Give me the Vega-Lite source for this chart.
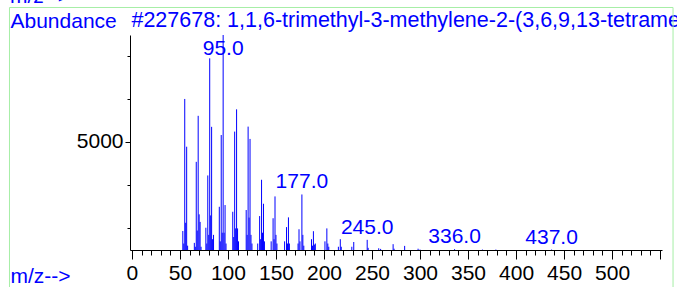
{
  "$schema": "https://vega.github.io/schema/vega-lite/v6.json",
  "width": 532,
  "height": 215,
  "autosize": {"type": "none"},
  "padding": {"left": 130, "top": 35, "right": 15, "bottom": 37},
  "background": "white",
  "config": {
    "view": {"stroke": null},
    "font": "Liberation Sans"
  },
  "resolve": {"axis": {"x": "independent"}},
  "datasets": {
    "peaks": [
      {"mz": 53, "abundance": 880},
      {"mz": 54, "abundance": 300},
      {"mz": 55, "abundance": 6990},
      {"mz": 56, "abundance": 1260},
      {"mz": 57, "abundance": 4780},
      {"mz": 58, "abundance": 200},
      {"mz": 65, "abundance": 330},
      {"mz": 66, "abundance": 150},
      {"mz": 67, "abundance": 4080},
      {"mz": 68, "abundance": 900},
      {"mz": 69, "abundance": 6210},
      {"mz": 70, "abundance": 1650},
      {"mz": 71, "abundance": 1300},
      {"mz": 72, "abundance": 150},
      {"mz": 77, "abundance": 1030},
      {"mz": 78, "abundance": 300},
      {"mz": 79, "abundance": 3450},
      {"mz": 80, "abundance": 700},
      {"mz": 81, "abundance": 8870},
      {"mz": 82, "abundance": 1600},
      {"mz": 83, "abundance": 5700},
      {"mz": 84, "abundance": 500},
      {"mz": 85, "abundance": 700},
      {"mz": 91, "abundance": 2000},
      {"mz": 92, "abundance": 400},
      {"mz": 93, "abundance": 5320},
      {"mz": 94, "abundance": 800},
      {"mz": 95, "abundance": 9950, "label": "95.0"},
      {"mz": 96, "abundance": 800},
      {"mz": 97, "abundance": 2080},
      {"mz": 98, "abundance": 300},
      {"mz": 105, "abundance": 1770},
      {"mz": 106, "abundance": 600},
      {"mz": 107, "abundance": 5480},
      {"mz": 108, "abundance": 1000},
      {"mz": 109, "abundance": 6510},
      {"mz": 110, "abundance": 1000},
      {"mz": 111, "abundance": 400},
      {"mz": 119, "abundance": 1850},
      {"mz": 120, "abundance": 700},
      {"mz": 121, "abundance": 5710},
      {"mz": 122, "abundance": 1500},
      {"mz": 123, "abundance": 5140},
      {"mz": 124, "abundance": 700},
      {"mz": 125, "abundance": 300},
      {"mz": 131, "abundance": 300},
      {"mz": 133, "abundance": 1570},
      {"mz": 134, "abundance": 500},
      {"mz": 135, "abundance": 3250},
      {"mz": 136, "abundance": 800},
      {"mz": 137, "abundance": 2140},
      {"mz": 138, "abundance": 400},
      {"mz": 145, "abundance": 400},
      {"mz": 147, "abundance": 1470},
      {"mz": 148, "abundance": 500},
      {"mz": 149, "abundance": 2480},
      {"mz": 150, "abundance": 700},
      {"mz": 151, "abundance": 300},
      {"mz": 159, "abundance": 400},
      {"mz": 161, "abundance": 1060},
      {"mz": 162, "abundance": 300},
      {"mz": 163, "abundance": 1510},
      {"mz": 164, "abundance": 300},
      {"mz": 173, "abundance": 300},
      {"mz": 174, "abundance": 960},
      {"mz": 175, "abundance": 400},
      {"mz": 177, "abundance": 2570, "label": "177.0"},
      {"mz": 178, "abundance": 700},
      {"mz": 179, "abundance": 200},
      {"mz": 187, "abundance": 500},
      {"mz": 188, "abundance": 200},
      {"mz": 189, "abundance": 870},
      {"mz": 190, "abundance": 250},
      {"mz": 191, "abundance": 300},
      {"mz": 201, "abundance": 400},
      {"mz": 203, "abundance": 1000},
      {"mz": 204, "abundance": 300},
      {"mz": 205, "abundance": 150},
      {"mz": 215, "abundance": 150},
      {"mz": 217, "abundance": 500},
      {"mz": 218, "abundance": 150},
      {"mz": 229, "abundance": 150},
      {"mz": 231, "abundance": 370},
      {"mz": 245, "abundance": 470, "label": "245.0"},
      {"mz": 246, "abundance": 100},
      {"mz": 257, "abundance": 80},
      {"mz": 259, "abundance": 50},
      {"mz": 272, "abundance": 270},
      {"mz": 273, "abundance": 60},
      {"mz": 284, "abundance": 190},
      {"mz": 298, "abundance": 60},
      {"mz": 300, "abundance": 20},
      {"mz": 336, "abundance": 40, "label": "336.0"},
      {"mz": 365, "abundance": 20},
      {"mz": 379, "abundance": 20},
      {"mz": 437, "abundance": 20, "label": "437.0"}
    ],
    "single": [{"name": "#227678: 1,1,6-trimethyl-3-methylene-2-(3,6,9,13-tetramethyl-6-ethenye-10,14-tetradecadienyl)cyclohexane"}]
  },
  "layer": [
    {
      "data": {"name": "peaks"},
      "mark": {"type": "rule", "color": "#0000ff", "strokeWidth": 1},
      "encoding": {
        "x": {
          "field": "mz",
          "type": "quantitative",
          "scale": {"domain": [-2, 552], "nice": false, "zero": false},
          "axis": {
            "orient": "bottom",
            "values": [0,50,100,150,200,250,300,350,400,450,500,550],
            "labelExpr": "datum.value > 500 ? '' : datum.label",
            "tickSize": 9,
            "labelFont": "Liberation Sans",
            "labelFontSize": 21,
            "labelColor": "black",
            "labelFlush": false,
            "labelOverlap": false,
            "labelPadding": 3,
            "domainColor": "black",
            "tickColor": "black",
            "grid": false,
            "title": "m/z-->",
            "titleColor": "#0000ff",
            "titleFont": "Liberation Sans",
            "titleFontSize": 21,
            "titleFontWeight": "normal",
            "titleAlign": "left",
            "titleBaseline": "alphabetic",
            "titleX": -120,
            "titleY": 32
          }
        },
        "y": {
          "field": "abundance",
          "type": "quantitative",
          "scale": {"domain": [0, 9950], "nice": false},
          "axis": {
            "values": [1000,2000,3000,4000,5000,6000,7000,8000,9000],
            "labelExpr": "datum.value === 5000 ? '5000' : ''",
            "tickSize": {"condition": {"test": "datum.value === 5000", "value": 5}, "value": 3},
            "labelFont": "Liberation Sans",
            "labelFontSize": 21,
            "labelColor": "black",
            "labelPadding": 2,
            "labelOverlap": false,
            "domainColor": "black",
            "tickColor": "black",
            "grid": false,
            "title": "Abundance",
            "titleAngle": 0,
            "titleColor": "#0000ff",
            "titleFont": "Liberation Sans",
            "titleFontSize": 21,
            "titleFontWeight": "normal",
            "titleAlign": "left",
            "titleBaseline": "alphabetic",
            "titleX": -120,
            "titleY": -8
          }
        },
        "y2": {"datum": 0}
      }
    },
    {
      "data": {"name": "peaks"},
      "transform": [
        {"filter": "datum.label"},
        {"calculate": "min(datum.abundance, 8750)", "as": "labelpos"}
      ],
      "mark": {"type": "text", "color": "#0000ff", "font": "Liberation Sans", "fontSize": 21, "dy": -6, "baseline": "alphabetic", "align": "center"},
      "encoding": {
        "x": {
          "field": "mz",
          "type": "quantitative",
          "axis": {
            "orient": "bottom",
            "values": [10,20,30,40,60,70,80,90,110,120,130,140,160,170,180,190,210,220,230,240,260,270,280,290,310,320,330,340,360,370,380,390,410,420,430,440,460,470,480,490,510,520,530,540],
            "labels": false,
            "domain": false,
            "grid": false,
            "tickSize": 5,
            "tickColor": "black",
            "title": null
          }
        },
        "y": {"field": "labelpos", "type": "quantitative"},
        "text": {"field": "label"}
      }
    },
    {
      "data": {"name": "single"},
      "mark": {"type": "text", "color": "#0000ff", "font": "Liberation Sans", "fontSize": 21.5, "align": "left", "baseline": "alphabetic"},
      "encoding": {
        "x": {"datum": -0.5, "type": "quantitative", "axis": null},
        "y": {"datum": 10320, "type": "quantitative"},
        "text": {"field": "name"}
      }
    },
    {
      "data": {"name": "single"},
      "mark": {"type": "rule", "color": "#a6eea6", "strokeWidth": 1},
      "encoding": {
        "x": {"datum": -127.5, "type": "quantitative", "axis": null},
        "x2": {"datum": 563.5},
        "y": {"datum": 11223, "type": "quantitative"}
      }
    },
    {
      "data": {"name": "single"},
      "mark": {"type": "rule", "color": "#a6eea6", "strokeWidth": 1},
      "encoding": {
        "x": {"datum": -127.5, "type": "quantitative", "axis": null},
        "y": {"datum": 11223, "type": "quantitative"},
        "y2": {"datum": -1900}
      }
    },
    {
      "data": {"name": "single"},
      "mark": {"type": "rule", "color": "#a6eea6", "strokeWidth": 1},
      "encoding": {
        "x": {"datum": 563.5, "type": "quantitative", "axis": null},
        "y": {"datum": 11223, "type": "quantitative"},
        "y2": {"datum": -1900}
      }
    },
    {
      "data": {"name": "single"},
      "mark": {"type": "text", "color": "#0000ff", "font": "Liberation Sans", "fontSize": 21, "align": "left", "baseline": "alphabetic"},
      "encoding": {
        "x": {"datum": -127, "type": "quantitative", "axis": null},
        "y": {"datum": 11450, "type": "quantitative"},
        "text": {"value": "m/z-->"}
      }
    }
  ]
}
